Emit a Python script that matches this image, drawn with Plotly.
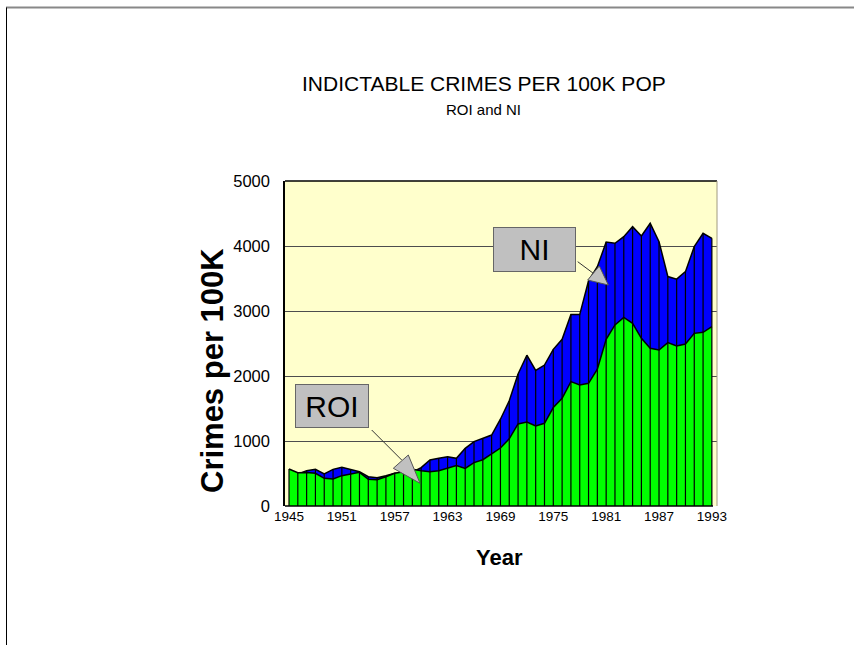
import plotly.graph_objects as go

# Indictable crimes per 100,000 population, 1945-1993
years = list(range(1945, 1994))
roi = [569, 513, 515, 503, 426, 415, 467, 492, 518, 410,
       405, 451, 503, 528, 564, 544, 528, 544, 579, 621,
       579, 667, 712, 798, 892, 1034, 1262, 1292, 1231, 1272,
       1515, 1656, 1913, 1862, 1887, 2105, 2565, 2785, 2900, 2810,
       2579, 2426, 2400, 2513, 2462, 2492, 2656, 2672, 2759]
ni = [480, 490, 544, 564, 492, 564, 595, 564, 528, 451,
      436, 467, 505, 500, 520, 590, 708, 733, 759, 733,
      887, 990, 1041, 1092, 1335, 1620, 2030, 2320, 2085, 2169,
      2410, 2565, 2945, 2945, 3465, 3682, 4060, 4041, 4144, 4297,
      4154, 4349, 4067, 3530, 3490, 3605, 3990, 4195, 4118]
x_tick_years = [1945, 1951, 1957, 1963, 1969, 1975, 1981, 1987, 1993]
y_tick_vals = [0, 1000, 2000, 3000, 4000, 5000]

W, H = 854, 645
L, R, T, B = 285, 717, 181, 506          # plot area in pixels
FONT = "Arial, Liberation Sans, sans-serif"


def px(x):
    return (x - L) / (R - L)


def py(y):
    return (B - y) / (B - T)


# drop lines from the axis up to the higher of the two series
drop_x, drop_y = [], []
for yr, a, b in zip(years, roi, ni):
    drop_x += [yr, yr, None]
    drop_y += [0, max(a, b), None]

fig = go.Figure()
fig.add_trace(go.Scatter(x=years, y=ni, mode="lines", fill="tozeroy",
                         fillcolor="#0000FF", line=dict(color="black", width=1.5),
                         name="NI", hoverinfo="x+y"))
fig.add_trace(go.Scatter(x=years, y=roi, mode="lines", fill="tozeroy",
                         fillcolor="#00FF00", line=dict(color="black", width=1.5),
                         name="ROI", hoverinfo="x+y"))
fig.add_trace(go.Scatter(x=drop_x, y=drop_y, mode="lines",
                         line=dict(color="black", width=1.2),
                         hoverinfo="skip", showlegend=False))

x0 = 1945 - (289 - L) / 8.81
x1 = x0 + (R - L) / 8.81

fig.update_layout(
    width=W, height=H,
    margin=dict(l=L, r=W - R, t=T, b=H - B, pad=0),
    paper_bgcolor="white",
    plot_bgcolor="#FFFFCC",
    showlegend=False,
    xaxis=dict(range=[x0, x1], tickvals=x_tick_years,
               ticktext=[str(v) for v in x_tick_years],
               showgrid=False, zeroline=False, showline=False,
               ticks="", ticklabelstandoff=0,
               tickfont=dict(family=FONT, size=13.5, color="black")),
    yaxis=dict(range=[0, 5000], tickvals=y_tick_vals,
               showgrid=True, gridcolor="#4d4d4d", gridwidth=1,
               zeroline=False, showline=True, linecolor="black",
               linewidth=1.5, ticks="", ticklabelstandoff=10,
               tickfont=dict(family=FONT, size=16.5, color="black")),
)

shapes = [
    # plot area border: top and right, and the category axis line
    dict(type="line", xref="paper", yref="paper", x0=0, x1=1, y0=1, y1=1,
         line=dict(color="black", width=1.5)),
    dict(type="line", xref="paper", yref="paper", x0=1, x1=1, y0=0, y1=1,
         line=dict(color="#a09a80", width=1)),
    dict(type="line", xref="paper", yref="paper", x0=0, x1=px(713), y0=0, y1=0,
         line=dict(color="black", width=1.5)),
    # page frame
    dict(type="line", xref="paper", yref="paper", x0=px(6), x1=px(854),
         y0=py(7.5), y1=py(7.5), line=dict(color="#888888", width=2)),
    dict(type="line", xref="paper", yref="paper", x0=px(6.5), x1=px(6.5),
         y0=py(7.5), y1=py(645), line=dict(color="black", width=1)),
    # ROI callout arrow
    dict(type="line", xref="paper", yref="paper", x0=px(371.7), y0=py(430),
         x1=px(401.7), y1=py(460), line=dict(color="#333333", width=1)),
    dict(type="path", xref="paper", yref="paper",
         path=f"M {px(393.3)} {py(468.3)} L {px(408.3)} {py(455)} L {px(420)} {py(483.3)} Z",
         fillcolor="#C0C0C0", line=dict(color="#555555", width=1)),
    # NI callout arrow
    dict(type="line", xref="paper", yref="paper", x0=px(577.7), y0=py(261.7),
         x1=px(593.3), y1=py(273.3), line=dict(color="#333333", width=1)),
    dict(type="path", xref="paper", yref="paper",
         path=f"M {px(587.7)} {py(280)} L {px(599.3)} {py(266)} L {px(608.3)} {py(285)} Z",
         fillcolor="#C0C0C0", line=dict(color="#555555", width=1)),
]
fig.update_layout(shapes=shapes)

annotations = [
    dict(text="INDICTABLE CRIMES PER 100K POP", x=px(483.5), y=py(83),
         font=dict(family=FONT, size=21, color="black")),
    dict(text="ROI and NI", x=px(483.5), y=py(110),
         font=dict(family=FONT, size=15, color="black")),
    dict(text="<b>Year</b>", x=px(499), y=py(557),
         font=dict(family=FONT, size=22, color="black")),
    dict(text="<b>Crimes per 100K</b>", x=px(212), y=py(371), textangle=-90,
         font=dict(family=FONT, size=31, color="black")),
    dict(text="ROI", x=px(332), y=py(406), width=72, height=42,
         bgcolor="#C0C0C0", bordercolor="#666666", borderwidth=1, borderpad=0,
         font=dict(family=FONT, size=30, color="black")),
    dict(text="NI", x=px(534.7), y=py(249.5), width=81, height=43,
         bgcolor="#C0C0C0", bordercolor="#666666", borderwidth=1, borderpad=0,
         font=dict(family=FONT, size=30, color="black")),
]
for a in annotations:
    a.update(xref="paper", yref="paper", showarrow=False,
             xanchor="center", yanchor="middle")
fig.update_layout(annotations=annotations)

fig.write_html("out.html")
